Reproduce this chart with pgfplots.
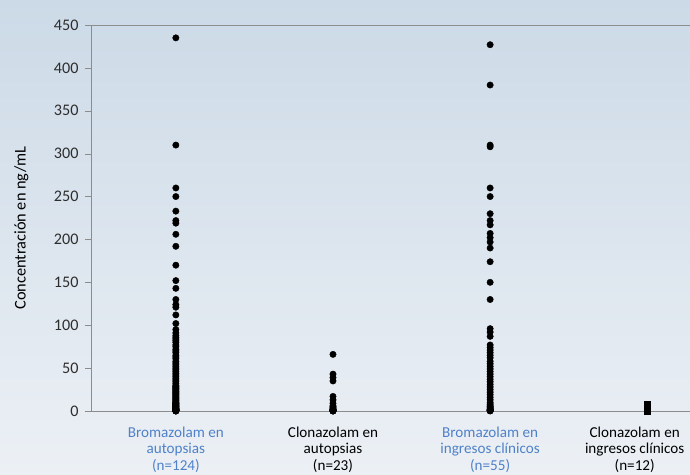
\documentclass[border=0pt]{standalone}
\usepackage{pgfplots}
\pgfplotsset{compat=1.18}
\usepackage{fontspec}
\setmainfont{Carlito}
\definecolor{bz}{RGB}{79,129,200}
\definecolor{tk}{RGB}{45,45,45}
\definecolor{ax}{RGB}{140,140,140}
\begin{document}
\begin{tikzpicture}
\useasboundingbox (0,0) rectangle (690bp,475bp);
\shade[top color={rgb,255:red,204;green,218;blue,231}, bottom color={rgb,255:red,236;green,240;blue,245}] (0,0) rectangle (690bp,475bp);
\begin{axis}[
  at={(91bp,64bp)}, anchor=south west,
  scale only axis, width=605bp, height=386bp,
  xmin=-0.54, xmax=3.31, ymin=0, ymax=450,
  ytick={0,50,...,450},
  xtick={0,1,2,2.92},
  xticklabels={
    {\textcolor{bz}{Bromazolam en}\\\textcolor{bz}{autopsias}\\\textcolor{bz}{(n=124)}},
    {Clonazolam en\\autopsias\\(n=23)},
    {\textcolor{bz}{Bromazolam en}\\\textcolor{bz}{ingresos clínicos}\\\textcolor{bz}{(n=55)}},
    {Clonazolam en\\ingresos clínicos\\(n=12)}},
  xticklabel style={align=center, font=\fontsize{15.2}{17}\selectfont, yshift=-6bp, text=black},
  x tick style={draw=none},
  ytick pos=left, tick align=outside, major tick length=6bp,
  y tick style={ax},
  yticklabel style={tk, font=\fontsize{16.2}{18}\selectfont, xshift=-3bp},
  /pgf/number format/assume math mode=true,
  axis line style={ax, line width=0.9pt},
  ylabel={Concentración en ng/mL},
  ylabel style={at={(axis description cs:-0.115,0.474)}, anchor=center, font=\fontsize{16.4}{18}\selectfont, text=black},
  clip=false,
]
\addplot[only marks, mark=*, mark size=3.2bp, black] coordinates {
(0,435)(0,310)(0,260)(0,250)(0,233)(0,222)(0,219)(0,206)(0,192)(0,170)(0,152)(0,143)(0,130)(0,124)(0,121)(0,112)(0,102)
(0,95)(0,91)(0,88)(0,86)(0,84)(0,82)(0,80)(0,77)(0,75)(0,72)(0,70)(0,68)(0,65)(0,63)(0,61)(0,58)(0,56)(0,54)(0,52)(0,50)
(0,48)(0,46)(0,44)(0,42)(0,40)(0,38)(0,36)(0,34)(0,32)(0,30)(0,29)(0,28)(0,27)(0,26)(0,25)(0,24)(0,23)(0,22)(0,21)(0,20)
(0,19)(0,18)(0,17)(0,16)(0,15)(0,14)(0,13)(0,12)(0,11)(0,10)(0,9.5)(0,9)(0,8.5)(0,8)(0,7.5)(0,7)(0,6.5)(0,6)(0,5.5)(0,5)
(0,4.5)(0,4)(0,3.5)(0,3)(0,2.8)(0,2.6)(0,2.4)(0,2.2)(0,2)(0,1.8)(0,1.6)(0,1.4)(0,1.2)(0,1)(0,0.9)(0,0.8)(0,0.7)(0,0.6)(0,0.5)
(0,0.4)(0,0.3)(0,0.2)(0,0.1)(0,0.1)(0,0)
};
\addplot[only marks, mark=*, mark size=3.2bp, black] coordinates {
(1,66)(1,43)(1,39)(1,35)(1,17)(1,13)(1,9)(1,6)(1,5)(1,4)(1,3)(1,2)(1,2)(1,1)(1,1)(1,1)(1,0.5)(1,0.5)(1,0.3)(1,0.2)(1,0.1)(1,0.1)(1,0)
};
\addplot[only marks, mark=*, mark size=3.2bp, black] coordinates {
(2,427)(2,380)(2,310)(2,308)(2,260)(2,250)(2,230)(2,222)(2,217)(2,207)(2,202)(2,197)(2,190)(2,174)(2,150)(2,130)
(2,96)(2,92)(2,87)(2,77)(2,74)(2,71)(2,68)(2,65)(2,62)(2,58)(2,55)(2,52)(2,49)(2,46)(2,43)(2,40)(2,37)(2,34)(2,31)
(2,28)(2,25)(2,22)(2,19)(2,16)(2,13)(2,10)(2,8)(2,6)(2,5)(2,4)(2,3)(2,2)(2,1.5)(2,1)(2,0.8)(2,0.5)(2,0.3)(2,0.2)(2,0.1)
};
\addplot[only marks, mark=square*, mark size=3.2bp, black] coordinates {
(3,8)(3,7)(3,6)(3,5)(3,4)(3,3)(3,2)(3,2)(3,1)(3,1)(3,0.5)(3,0.2)
};
\end{axis}
\end{tikzpicture}
\end{document}
